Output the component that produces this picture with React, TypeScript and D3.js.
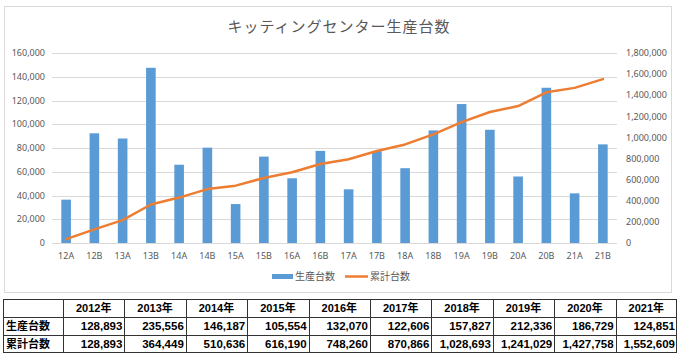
import React from "react";
import * as d3 from "d3";

const categories = ["12A","12B","13A","13B","14A","14B","15A","15B","16A","16B","17A","17B","18A","18B","19A","19B","20A","20B","21A","21B"];
const production = [36500,92393,88000,147556,65900,80287,32800,72754,54500,77570,45200,77406,63000,94827,117000,95336,56000,130729,41800,83051];
const cumulative = [36500,128893,216893,364449,430349,510636,543436,616190,670690,748260,793460,870866,933866,1028693,1145693,1241029,1297029,1427758,1469558,1552609];
const leftTicks = [0,20000,40000,60000,80000,100000,120000,140000,160000];
const rightTicks = [0,200000,400000,600000,800000,1000000,1200000,1400000,1600000,1800000];

const years = ["2012年","2013年","2014年","2015年","2016年","2017年","2018年","2019年","2020年","2021年"];
const yearProduction = [128893,235556,146187,105554,132070,122606,157827,212336,186729,124851];
const yearCumulative = [128893,364449,510636,616190,748260,870866,1028693,1241029,1427758,1552609];
const rowLabels = ["", "生産台数", "累計台数"];

const title = "キッティングセンター生産台数";
const BLUE = "#5B9BD5";
const ORANGE = "#ED7D31";
const GRAY = "#595959";
const FONT = "'Noto Sans', 'Noto Sans CJK JP', sans-serif";
const CJK = "'Noto Sans CJK JP', 'Noto Sans', sans-serif";
const TFONT = "'Liberation Sans', 'Noto Sans CJK JP', sans-serif";

export default function App() {
  const x = d3.scaleBand<string>().domain(categories).range([52, 617]).paddingInner(0.66).paddingOuter(0.33);
  const yL = d3.scaleLinear().domain([0, 160000]).range([243, 53]);
  const yR = d3.scaleLinear().domain([0, 1800000]).range([243, 53]);
  const fmt = d3.format(",");
  const bw = x.bandwidth();
  const line = d3.line<number>()
    .x((_, i) => (x(categories[i]) as number) + bw / 2)
    .y((d) => yR(d));

  const tx = d3.scaleBand<string>().domain(years).range([63, 677]);
  const ty = d3.scaleBand<string>().domain(rowLabels.map((r, i) => String(i))).range([299, 353]);
  const rowH = ty.bandwidth();

  return (
    <div style={{ position: "absolute", left: 0, top: 0 }}>
      <svg width={680} height={355} style={{ display: "block" }}>
        <rect x={0} y={0} width={680} height={355} fill="#fff" />
        <rect x={4.5} y={6.5} width={667} height={286} fill="#fff" stroke="#d9d9d9" />
        <text x={339} y={32} textAnchor="middle" fontFamily={CJK} fontSize={15} fill={GRAY} letterSpacing={1}>{title}</text>
        {leftTicks.map((t) => (
          <g key={"l" + t}>
            <line x1={52} x2={617} y1={Math.round(yL(t)) + 0.5} y2={Math.round(yL(t)) + 0.5} stroke="#d9d9d9" strokeWidth={1} />
            <text x={45} y={yL(t) + 3.2} textAnchor="end" fontFamily={FONT} fontSize={9} fill={GRAY}>{fmt(t)}</text>
          </g>
        ))}
        {rightTicks.map((t) => (
          <text key={"r" + t} x={626} y={yR(t) + 3.2} textAnchor="start" fontFamily={FONT} fontSize={9} fill={GRAY}>{fmt(t)}</text>
        ))}
        {categories.map((c, i) => (
          <rect key={c} x={x(c)} y={yL(production[i])} width={bw} height={yL(0) - yL(production[i])} fill={BLUE} />
        ))}
        {categories.map((c) => (
          <text key={"x" + c} x={(x(c) as number) + bw / 2} y={259} textAnchor="middle" fontFamily={FONT} fontSize={9} fill={GRAY}>{c}</text>
        ))}
        <path d={line(cumulative) || ""} fill="none" stroke={ORANGE} strokeWidth={2.5} strokeLinejoin="round" strokeLinecap="round" />
        <g>
          <rect x={272} y={274} width={21} height={5} fill={BLUE} />
          <text x={295} y={280} fontFamily={CJK} fontSize={10} fill={GRAY}>生産台数</text>
          <line x1={345} x2={368} y1={276.5} y2={276.5} stroke={ORANGE} strokeWidth={2.5} />
          <text x={370} y={280} fontFamily={CJK} fontSize={10} fill={GRAY}>累計台数</text>
        </g>
        <g>
          {rowLabels.map((r, ri) => {
            const yy = ty(String(ri)) as number;
            return (
              <g key={"row" + ri}>
                {r && <text x={6} y={yy + rowH / 2 + 4} fontFamily={CJK} fontWeight="bold" fontSize={11} fill="#000">{r}</text>}
                {years.map((yr, ci) => {
                  const cx = tx(yr) as number;
                  if (ri === 0) {
                    return <text key={yr} x={cx + tx.bandwidth() / 2} y={yy + rowH / 2 + 4} textAnchor="middle" fontFamily={TFONT} fontWeight="bold" fontSize={11} fill="#000">{yr}</text>;
                  }
                  const v = ri === 1 ? yearProduction[ci] : yearCumulative[ci];
                  return <text key={yr} x={cx + tx.bandwidth() - 2} y={yy + rowH / 2 + 4} textAnchor="end" fontFamily={TFONT} fontWeight="bold" fontSize={11.5} fill="#000">{fmt(v)}</text>;
                })}
              </g>
            );
          })}
          {rowLabels.map((_, ri) => (
            <line key={"h" + ri} x1={3} x2={677} y1={Math.round(ty(String(ri)) as number) + 0.5} y2={Math.round(ty(String(ri)) as number) + 0.5} stroke="#333" />
          ))}
          <line x1={3} x2={677} y1={352.5} y2={352.5} stroke="#333" />
          <line x1={3.5} x2={3.5} y1={299} y2={353} stroke="#333" />
          {years.map((yr) => (
            <line key={"v" + yr} x1={Math.round(tx(yr) as number) + 0.5} x2={Math.round(tx(yr) as number) + 0.5} y1={299} y2={353} stroke="#333" />
          ))}
          <line x1={676.5} x2={676.5} y1={299} y2={353} stroke="#333" />
        </g>
      </svg>
    </div>
  );
}
